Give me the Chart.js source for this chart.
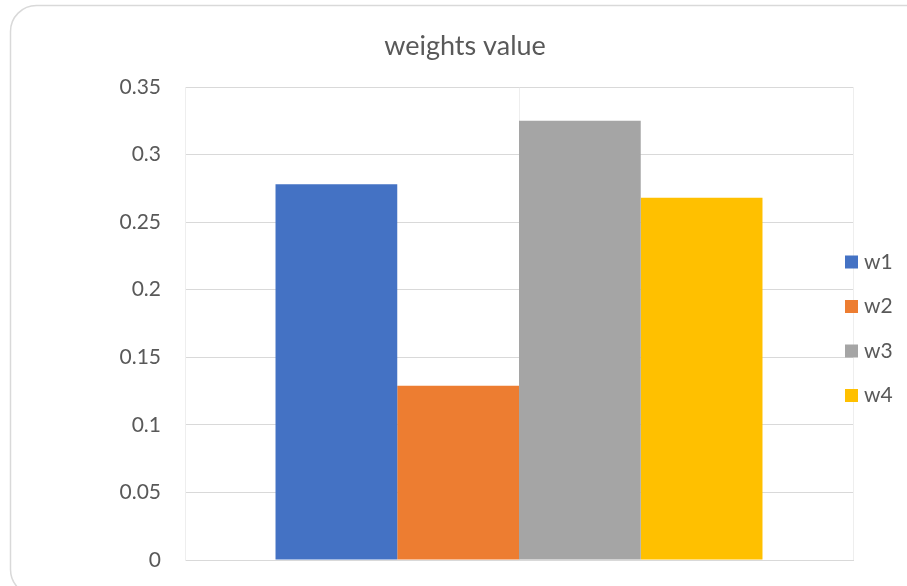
<!DOCTYPE html>
<html>
<head>
<meta charset="utf-8">
<script src="https://cdn.jsdelivr.net/npm/chart.js@4.4.0/dist/chart.umd.min.js"></script>
<style>
  html, body { margin: 0; padding: 0; background: #fff; }
  #wrap { width: 907px; height: 586px; }
</style>
</head>
<body>
<div id="wrap"><canvas id="myChart"></canvas></div>
<script>
var categories = [''];
var seriesNames = ['w1', 'w2', 'w3', 'w4'];
var seriesValues = [0.278, 0.129, 0.325, 0.268];
var tickLabels = ['0', '0.05', '0.1', '0.15', '0.2', '0.25', '0.3', '0.35'];

var seriesColors = ['#4472C4', '#ED7D31', '#A5A5A5', '#FFC000'];
var textColor = '#595959';
var fontFamily = 'Lato, "Open Sans", sans-serif';

// rounded frame around the whole chart
var framePlugin = {
    id: 'frame',
    beforeDraw: function(chart) {
        var c = chart.ctx;
        c.save();
        c.fillStyle = '#ffffff';
        c.fillRect(0, 0, chart.width, chart.height);
        c.strokeStyle = '#d9d9d9';
        c.lineWidth = 1.5;
        c.beginPath();
        c.roundRect(10.5, 5.5, 925, 590, 26);
        c.stroke();
        c.restore();
    }
};

// legend on the right, drawn by hand so it can sit over the plot edge
var sideLegend = {
    id: 'sideLegend',
    afterDraw: function(chart) {
        var c = chart.ctx;
        c.save();
        c.font = '21px ' + fontFamily;
        c.textBaseline = 'middle';
        c.textAlign = 'left';
        chart.data.datasets.forEach(function(ds, i) {
            var cy = 262 + i * 44.5;
            c.fillStyle = ds.backgroundColor;
            c.fillRect(845, cy - 6.5, 13, 13);
            c.fillStyle = textColor;
            c.fillText(ds.label, 864, cy);
        });
        c.restore();
    }
};

var datasets = seriesNames.map(function(name, i) {
    return {
        label: name,
        data: [seriesValues[i]],
        backgroundColor: seriesColors[i],
        borderWidth: 0,
        categoryPercentage: 0.729,
        barPercentage: 1.0
    };
});

var ctx1 = document.getElementById('myChart').getContext('2d');

var myChart = new Chart(ctx1, {
    type: 'bar',
    data: {
        labels: categories,
        datasets: datasets
    },
    options: {
        responsive: true,
        maintainAspectRatio: false,
        animation: false,
        layout: {
            padding: { left: 77, right: 54, top: 20, bottom: 26 }
        },
        plugins: {
            legend: { display: false },
            tooltip: { enabled: false },
            title: {
                display: true,
                text: 'weights value',
                color: textColor,
                font: { family: fontFamily, size: 27, weight: 'normal' },
                padding: { top: 10, bottom: 24.6 }
            }
        },
        scales: {
            x: {
                offset: true,
                grid: { offset: true, color: '#eeeeee', drawTicks: false },
                border: { display: true, color: '#d9d9d9' },
                ticks: { display: false },
                afterFit: function(scale) { scale.height = 0; }
            },
            x2: {
                position: 'bottom',
                labels: categories,
                offset: true,
                grid: { offset: false, color: '#eeeeee', drawTicks: false },
                border: { display: false },
                ticks: { display: false },
                afterFit: function(scale) { scale.height = 0; }
            },
            y: {
                min: 0,
                max: 0.35,
                grid: { color: '#d9d9d9', drawTicks: false },
                border: { display: true, color: '#eeeeee' },
                ticks: {
                    stepSize: 0.05,
                    padding: 24,
                    color: textColor,
                    font: { family: fontFamily, size: 21 },
                    callback: function(value, index) { return tickLabels[index]; }
                },
                afterFit: function(scale) {
                    scale.width = 108;
                    scale.paddingTop = 0;
                    scale.paddingBottom = 0;
                }
            }
        }
    },
    plugins: [framePlugin, sideLegend]
});
</script>
</body>
</html>
